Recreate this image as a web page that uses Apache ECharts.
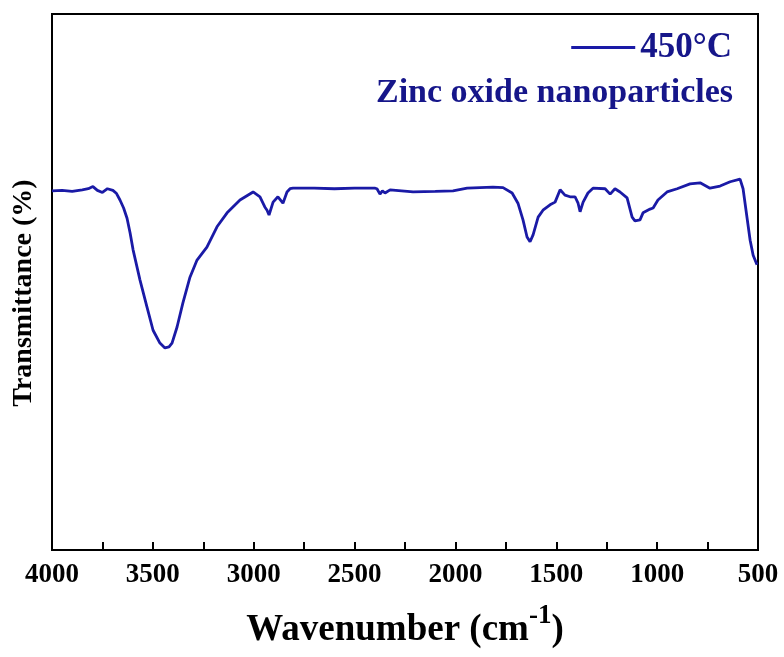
<!DOCTYPE html>
<html>
<head>
<meta charset="utf-8">
<script src="https://cdn.jsdelivr.net/npm/echarts@6/dist/echarts.min.js"></script>
<style>
  html, body { margin: 0; padding: 0; background: #ffffff; }
  #chart { width: 784px; height: 657px; }
</style>
</head>
<body>
<div id="chart"></div>
<script>
// FTIR spectrum of ZnO nanoparticles calcined at 450 °C
const wavenumbers = [
  4000, 3950, 3900, 3850, 3820, 3797, 3775, 3750, 3725, 3698,
  3680, 3663, 3645, 3628, 3613, 3598, 3564, 3529, 3499, 3465,
  3440, 3420, 3405, 3380, 3351, 3316, 3281, 3232, 3182, 3132,
  3068, 3003, 2969, 2945, 2934, 2924, 2904, 2880, 2855, 2835,
  2820, 2805, 2700, 2600, 2500, 2400, 2389, 2374, 2362, 2349,
  2324, 2210, 2100, 2012, 1942, 1878, 1814, 1764, 1719, 1690,
  1665, 1645, 1630, 1615, 1590, 1566, 1531, 1506, 1481, 1457,
  1432, 1407, 1392, 1382, 1367, 1343, 1318, 1258, 1233, 1209,
  1184, 1149, 1124, 1110, 1085, 1070, 1035, 1020, 996, 951,
  901, 837, 787, 738, 688, 638, 589, 574, 554, 539,
  524, 505
];
const transmittance = [
  67.0, 67.1, 66.9, 67.2, 67.4, 67.8, 67.1, 66.7, 67.4, 67.1,
  66.5, 65.3, 63.8, 61.9, 59.2, 56.0, 50.4, 45.3, 41.0, 38.6,
  37.7, 37.9, 38.6, 41.6, 46.1, 50.9, 54.1, 56.5, 60.3, 62.9,
  65.3, 66.8, 65.9, 64.0, 63.4, 62.5, 64.9, 65.9, 64.7, 66.8,
  67.4, 67.5, 67.5, 67.4, 67.5, 67.5, 67.4, 66.4, 67.0, 66.6,
  67.2, 66.8, 66.9, 67.0, 67.5, 67.6, 67.7, 67.6, 66.6, 64.7,
  61.6, 58.4, 57.5, 58.8, 62.1, 63.4, 64.4, 64.9, 67.2, 66.2,
  65.9, 65.9, 64.7, 63.1, 64.9, 66.6, 67.5, 67.4, 66.4, 67.4,
  66.8, 65.7, 62.1, 61.4, 61.6, 62.9, 63.6, 63.8, 65.3, 66.8,
  67.4, 68.3, 68.5, 67.5, 67.9, 68.7, 69.2, 67.4, 61.9, 57.8,
  55.0, 53.2
];
const xTicks = [4000, 3500, 3000, 2500, 2000, 1500, 1000, 500];
const seriesName = '450°C';
const sampleLabel = 'Zinc oxide nanoparticles';

const serif = "'Liberation Serif', 'Times New Roman', serif";
const navy = '#16168a';
const lineBlue = '#1a1aa6';

const chart = echarts.init(document.getElementById('chart'), null, { renderer: 'canvas' });
chart.setOption({
  backgroundColor: '#ffffff',
  animation: false,
  grid: {
    left: 52, right: 26, top: 14, bottom: 107,
    show: true, borderColor: '#000000', borderWidth: 2, backgroundColor: 'transparent'
  },
  title: {
    text: sampleLabel,
    right: 46, top: 71,
    textStyle: { fontFamily: serif, fontWeight: 'bold', fontSize: 34, color: navy }
  },
  legend: {
    data: [seriesName],
    right: 47, top: 25,
    icon: 'rect',
    itemWidth: 64, itemHeight: 3, itemGap: 4,
    textStyle: { fontFamily: serif, fontWeight: 'bold', fontSize: 35, color: navy, padding: [0, 0, 0, 0] }
  },
  xAxis: {
    type: 'value',
    min: 500, max: 4000, interval: 250, inverse: true,
    name: '{a|Wavenumber (cm}{s|-1}{a|)}',
    nameLocation: 'middle', nameGap: 53,
    nameTextStyle: {
      rich: {
        a: { fontFamily: serif, fontWeight: 'bold', fontSize: 37, color: '#000', verticalAlign: 'bottom', lineHeight: 46 },
        s: { fontFamily: serif, fontWeight: 'bold', fontSize: 27, color: '#000', verticalAlign: 'top', padding: [0, 0, 20, 0], lineHeight: 46 }
      }
    },
    axisLine: { show: true, lineStyle: { color: '#000', width: 2 } },
    axisTick: { show: true, inside: true, length: 8, lineStyle: { color: '#000', width: 2 } },
    axisLabel: {
      margin: 12,
      fontFamily: serif, fontWeight: 'bold', fontSize: 27, color: '#000',
      formatter: function (v) { return xTicks.indexOf(v) >= 0 ? String(v) : ''; }
    },
    splitLine: { show: false }
  },
  yAxis: {
    type: 'value',
    min: 0, max: 100,
    name: 'Transmittance (%)',
    nameLocation: 'middle', nameGap: 14, nameRotate: 90,
    nameTextStyle: { fontFamily: serif, fontWeight: 'bold', fontSize: 28, color: '#000', padding: [0, 22, 0, 0] },
    axisLine: { show: true, lineStyle: { color: '#000', width: 2 } },
    axisTick: { show: false },
    axisLabel: { show: false },
    splitLine: { show: false }
  },
  series: [{
    name: seriesName,
    type: 'line',
    data: wavenumbers.map((w, i) => [w, transmittance[i]]),
    showSymbol: false,
    symbol: 'none',
    smooth: false,
    lineStyle: { color: lineBlue, width: 2.8 },
    itemStyle: { color: lineBlue }
  }]
});
</script>
</body>
</html>
